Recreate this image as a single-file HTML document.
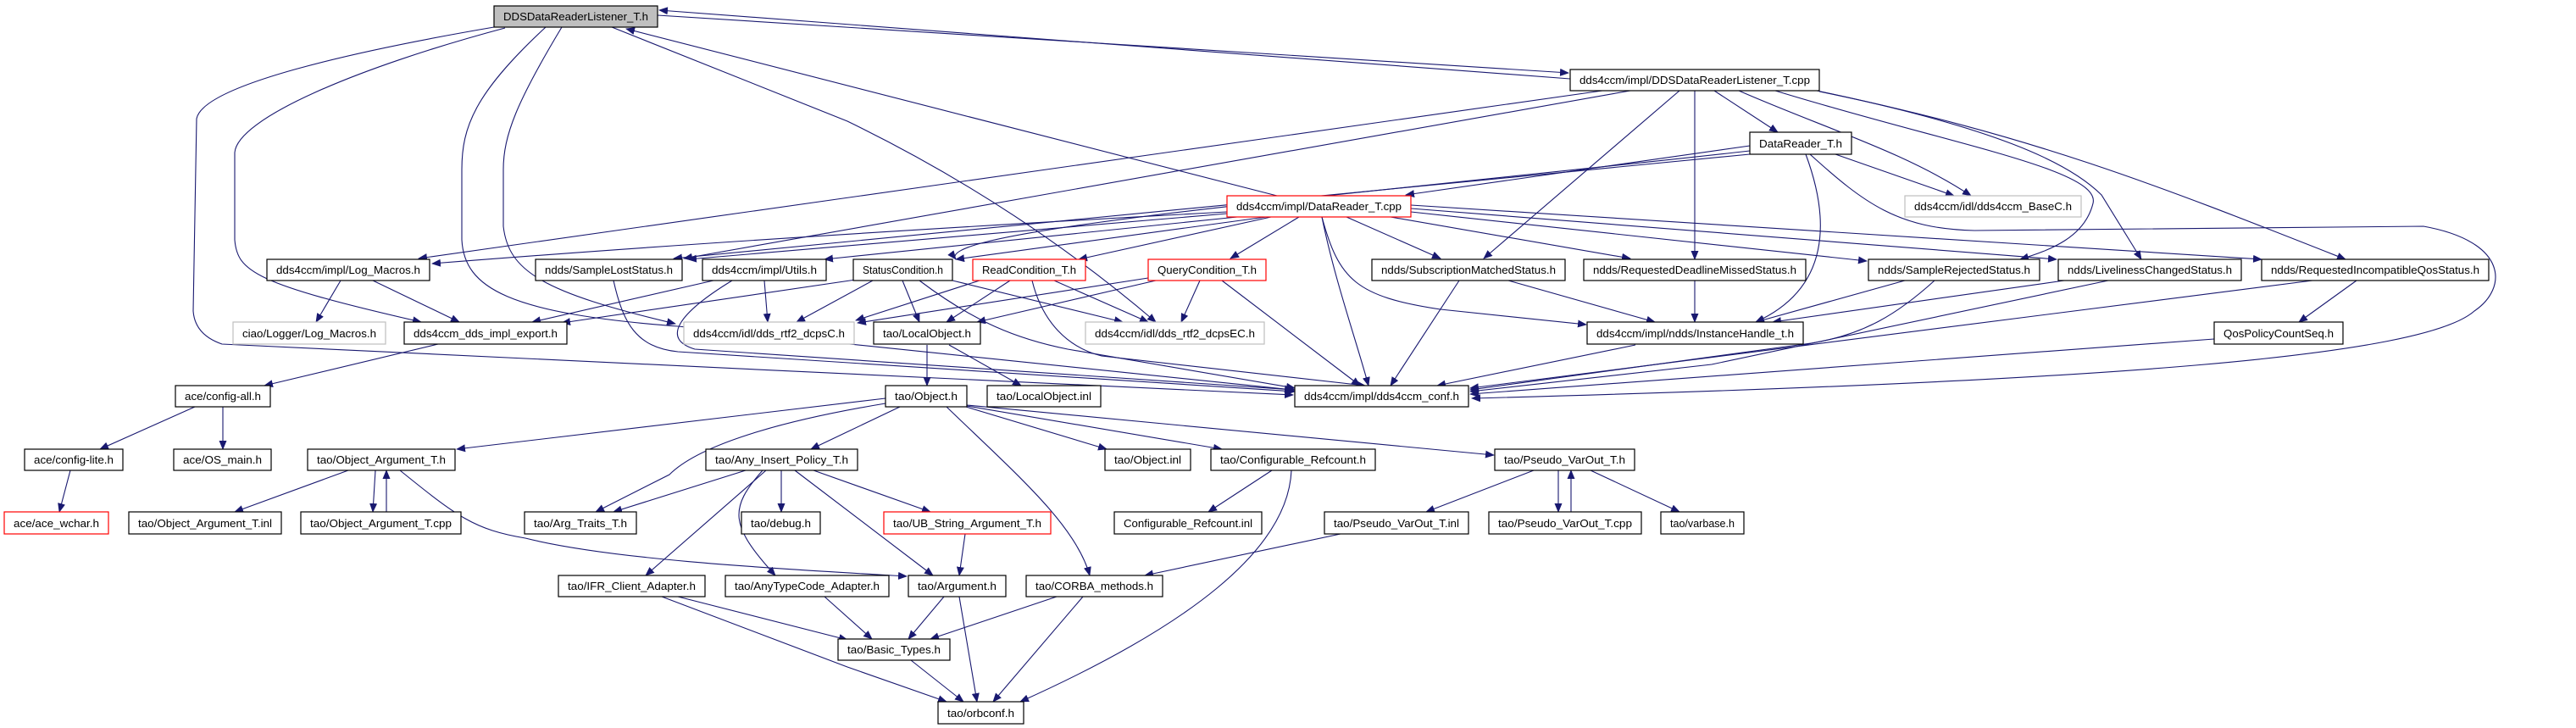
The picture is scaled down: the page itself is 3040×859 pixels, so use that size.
<!DOCTYPE html>
<html><head><meta charset="utf-8"><style>
html,body{margin:0;padding:0;background:#fff;}
svg{display:block;}
text{font-family:"Liberation Sans",sans-serif;font-size:12.5px;fill:#000;}
.e{fill:none;stroke:#191970;stroke-width:1.1;marker-end:url(#a);}
rect{fill:#fff;stroke:#000;stroke-width:1.2;}
rect.g{stroke:#bfbfbf;}
rect.r{stroke:#ff0000;}
</style></head><body>
<svg width="3040" height="859" viewBox="0 0 3040 859" xmlns="http://www.w3.org/2000/svg">
<defs><marker id="a" markerWidth="11" markerHeight="9" refX="10" refY="4.5" orient="auto" markerUnits="userSpaceOnUse"><path d="M0,0 L11,4.5 L0,9z" fill="#191970"/></marker></defs>
<g>
<!-- A edges -->
<path class="e" d="M776,18 L1851,86"/>
<path class="e" d="M1853,93 L778,12"/>
<path class="e" d="M583,32 C420,60 240,100 232,140 L228,367 Q230,395 262,406 L1526,466"/>
<path class="e" d="M596,33 C420,80 280,140 277,180 L277,283 C280,320 300,335 497,380"/>
<path class="e" d="M663,32 C610,120 594,160 594,200 L594,267 C600,320 640,345 797,382"/>
<path class="e" d="M644,32 C560,110 545,150 545,200 L545,283 C548,340 600,370 800,385 L1526,460"/>
<path class="e" d="M722,32 L1000,143 Q1200,240 1364,380"/>
<path class="e" d="M1507,231 L739,34"/>
<!-- B edges -->
<path class="e" d="M2023,107 L2098,156"/>
<path class="e" d="M2052,107 C2150,150 2250,180 2326,231"/>
<path class="e" d="M2095,107 C2300,170 2480,200 2470,240 C2460,280 2420,295 2384,306"/>
<path class="e" d="M2144,107 C2350,150 2440,190 2480,230 L2527,306"/>
<path class="e" d="M2147,108 C2400,160 2550,220 2768,306"/>
<path class="e" d="M2000,107 L2000,306"/>
<path class="e" d="M1982,107 L1751,305"/>
<path class="e" d="M1891,107 L494,305"/>
<path class="e" d="M1924,107 L807,305"/>
<!-- C edges -->
<path class="e" d="M2065,172 L1659,230"/>
<path class="e" d="M2065,178 C1600,230 1100,270 1128,306"/>
<path class="e" d="M2065,182 L795,305"/>
<path class="e" d="M2166,182 L2306,231"/>
<path class="e" d="M2131,182 C2160,260 2160,340 2072,380"/>
<path class="e" d="M2136,182 C2200,240 2240,270 2330,272 L2860,267 C2960,285 2960,340 2920,367 C2860,420 2500,450 1737,470"/>
<!-- D edges -->
<path class="e" d="M1448,250 Q900,280 510,311"/>
<path class="e" d="M1448,252 L812,306"/>
<path class="e" d="M1460,256 L973,306"/>
<path class="e" d="M1494,256 L1128,306"/>
<path class="e" d="M1500,256 L1273,306"/>
<path class="e" d="M1533,256 L1452,305"/>
<path class="e" d="M1589,256 L1700,305"/>
<path class="e" d="M1641,256 L1924,305"/>
<path class="e" d="M1665,250 L2203,308"/>
<path class="e" d="M1665,246 L2427,306"/>
<path class="e" d="M1665,242 L2669,306"/>
<path class="e" d="M1560,256 C1575,330 1600,400 1615,455"/>
<path class="e" d="M1560,256 C1580,330 1600,350 1700,365 L1872,383"/>
<!-- middle row -->
<path class="e" d="M402,331 L373,380"/>
<path class="e" d="M440,331 L542,380"/>
<path class="e" d="M724,331 C735,380 750,410 800,415 L1528,462"/>
<path class="e" d="M842,331 L628,380"/>
<path class="e" d="M902,331 L906,380"/>
<path class="e" d="M864,331 C800,370 780,400 820,412 L1528,460"/>
<path class="e" d="M1010,330 L663,381"/>
<path class="e" d="M1030,331 L940,380"/>
<path class="e" d="M1065,331 L1085,380"/>
<path class="e" d="M1124,331 L1325,380"/>
<path class="e" d="M1085,331 C1150,380 1200,400 1260,412 L1528,458"/>
<path class="e" d="M1156,331 L1010,378"/>
<path class="e" d="M1355,328 L1012,381"/>
<path class="e" d="M1192,331 L1117,380"/>
<path class="e" d="M1244,331 L1355,380"/>
<path class="e" d="M1218,331 C1230,380 1260,410 1300,420 L1611,455"/>
<path class="e" d="M1364,331 L1153,380"/>
<path class="e" d="M1416,331 L1394,380"/>
<path class="e" d="M1442,331 L1605,455"/>
<path class="e" d="M1722,331 L1641,455"/>
<path class="e" d="M1780,331 L1953,380"/>
<path class="e" d="M2000,331 L2000,380"/>
<path class="e" d="M2248,331 L2072,380"/>
<path class="e" d="M2283,331 C2240,370 2200,395 2137,405 L1735,460"/>
<path class="e" d="M2436,331 L2092,380"/>
<path class="e" d="M2488,331 L2020,430 L1735,462"/>
<path class="e" d="M2781,331 L2713,380"/>
<path class="e" d="M2729,331 L1735,458"/>
<path class="e" d="M2613,400 L1735,465"/>
<path class="e" d="M1930,407 L1696,455"/>
<!-- lower -->
<path class="e" d="M517,406 L312,455"/>
<path class="e" d="M1094,407 L1094,455"/>
<path class="e" d="M1120,407 L1205,455"/>
<path class="e" d="M230,480 L118,530"/>
<path class="e" d="M263,480 L263,530"/>
<path class="e" d="M83,555 L70,604"/>
<path class="e" d="M1045,470 L539,530"/>
<path class="e" d="M1045,476 C900,500 820,530 790,560 L703,604"/>
<path class="e" d="M1062,480 L957,530"/>
<path class="e" d="M1140,480 L1306,530"/>
<path class="e" d="M1141,479 L1442,530"/>
<path class="e" d="M1141,478 L1763,537"/>
<path class="e" d="M1117,480 C1200,560 1270,620 1286,679"/>
<path class="e" d="M411,555 L277,604"/>
<path class="e" d="M443,555 L440,604"/>
<path class="e" d="M456,604 L456,555"/>
<path class="e" d="M472,555 C540,610 560,625 620,635 C720,660 900,670 1070,680"/>
<path class="e" d="M880,555 L724,604"/>
<path class="e" d="M922,555 L922,604"/>
<path class="e" d="M960,555 L1098,604"/>
<path class="e" d="M938,555 L1101,679"/>
<path class="e" d="M904,555 L762,679"/>
<path class="e" d="M900,555 C860,600 861,620 915,679"/>
<path class="e" d="M1139,630 L1132,679"/>
<path class="e" d="M1501,555 L1426,604"/>
<path class="e" d="M1524,555 C1520,650 1400,740 1204,828"/>
<path class="e" d="M1810,555 L1683,604"/>
<path class="e" d="M1839,555 L1839,604"/>
<path class="e" d="M1854,604 L1854,555"/>
<path class="e" d="M1877,555 L1982,604"/>
<path class="e" d="M1582,630 L1351,679"/>
<path class="e" d="M800,704 L1000,755"/>
<path class="e" d="M781,704 L1000,787 L1117,828"/>
<path class="e" d="M973,704 L1029,754"/>
<path class="e" d="M1114,704 L1072,754"/>
<path class="e" d="M1132,704 L1153,828"/>
<path class="e" d="M1247,704 L1098,754"/>
<path class="e" d="M1278,704 L1172,828"/>
<path class="e" d="M1075,779 L1137,828"/>
</g>
<g>
<rect x="583" y="7" width="193" height="25" style="fill:#bfbfbf"/><text x="679.5" y="24" text-anchor="middle" textLength="171" lengthAdjust="spacingAndGlyphs">DDSDataReaderListener_T.h</text>
<rect x="1853" y="82" width="294" height="25"/><text x="2000" y="99" text-anchor="middle" textLength="272" lengthAdjust="spacingAndGlyphs">dds4ccm/impl/DDSDataReaderListener_T.cpp</text>
<rect x="2065" y="156" width="120" height="26"/><text x="2125" y="174" text-anchor="middle" textLength="98" lengthAdjust="spacingAndGlyphs">DataReader_T.h</text>
<rect class="r" x="1448" y="231" width="217" height="25"/><text x="1556.5" y="248" text-anchor="middle" textLength="195" lengthAdjust="spacingAndGlyphs">dds4ccm/impl/DataReader_T.cpp</text>
<rect class="g" x="2248" y="231" width="208" height="25"/><text x="2352" y="248" text-anchor="middle" textLength="186" lengthAdjust="spacingAndGlyphs">dds4ccm/idl/dds4ccm_BaseC.h</text>

<rect x="315" y="306" width="192" height="25"/><text x="411" y="323" text-anchor="middle" textLength="170" lengthAdjust="spacingAndGlyphs">dds4ccm/impl/Log_Macros.h</text>
<rect x="632" y="306" width="173" height="25"/><text x="718.5" y="323" text-anchor="middle" textLength="151" lengthAdjust="spacingAndGlyphs">ndds/SampleLostStatus.h</text>
<rect x="829" y="306" width="146" height="25"/><text x="902" y="323" text-anchor="middle" textLength="124" lengthAdjust="spacingAndGlyphs">dds4ccm/impl/Utils.h</text>
<rect x="1007" y="306" width="117" height="25"/><text x="1065.5" y="323" text-anchor="middle" textLength="95" lengthAdjust="spacingAndGlyphs">StatusCondition.h</text>
<rect class="r" x="1148" y="306" width="133" height="25"/><text x="1214.5" y="323" text-anchor="middle" textLength="111" lengthAdjust="spacingAndGlyphs">ReadCondition_T.h</text>
<rect class="r" x="1355" y="306" width="139" height="25"/><text x="1424.5" y="323" text-anchor="middle" textLength="117" lengthAdjust="spacingAndGlyphs">QueryCondition_T.h</text>
<rect x="1619" y="306" width="228" height="25"/><text x="1733" y="323" text-anchor="middle" textLength="206" lengthAdjust="spacingAndGlyphs">ndds/SubscriptionMatchedStatus.h</text>
<rect x="1869" y="306" width="262" height="25"/><text x="2000" y="323" text-anchor="middle" textLength="240" lengthAdjust="spacingAndGlyphs">ndds/RequestedDeadlineMissedStatus.h</text>
<rect x="2205" y="306" width="202" height="25"/><text x="2306" y="323" text-anchor="middle" textLength="180" lengthAdjust="spacingAndGlyphs">ndds/SampleRejectedStatus.h</text>
<rect x="2429" y="306" width="216" height="25"/><text x="2537" y="323" text-anchor="middle" textLength="194" lengthAdjust="spacingAndGlyphs">ndds/LivelinessChangedStatus.h</text>
<rect x="2669" y="306" width="268" height="25"/><text x="2803" y="323" text-anchor="middle" textLength="246" lengthAdjust="spacingAndGlyphs">ndds/RequestedIncompatibleQosStatus.h</text>

<rect class="g" x="275" y="380" width="180" height="26"/><text x="365" y="398" text-anchor="middle" textLength="158" lengthAdjust="spacingAndGlyphs">ciao/Logger/Log_Macros.h</text>
<rect x="477" y="380" width="192" height="26"/><text x="573" y="398" text-anchor="middle" textLength="170" lengthAdjust="spacingAndGlyphs">dds4ccm_dds_impl_export.h</text>
<rect class="g" x="807" y="380" width="201" height="26"/><text x="907.5" y="398" text-anchor="middle" textLength="179" lengthAdjust="spacingAndGlyphs">dds4ccm/idl/dds_rtf2_dcpsC.h</text>
<rect x="1031" y="380" width="126" height="26"/><text x="1094" y="398" text-anchor="middle" textLength="104" lengthAdjust="spacingAndGlyphs">tao/LocalObject.h</text>
<rect class="g" x="1281" y="380" width="211" height="26"/><text x="1386.5" y="398" text-anchor="middle" textLength="189" lengthAdjust="spacingAndGlyphs">dds4ccm/idl/dds_rtf2_dcpsEC.h</text>
<rect x="1873" y="380" width="255" height="26"/><text x="2000.5" y="398" text-anchor="middle" textLength="233" lengthAdjust="spacingAndGlyphs">dds4ccm/impl/ndds/InstanceHandle_t.h</text>
<rect x="2613" y="380" width="152" height="26"/><text x="2689" y="398" text-anchor="middle" textLength="130" lengthAdjust="spacingAndGlyphs">QosPolicyCountSeq.h</text>

<rect x="207" y="455" width="112" height="25"/><text x="263" y="472" text-anchor="middle" textLength="90" lengthAdjust="spacingAndGlyphs">ace/config-all.h</text>
<rect x="1045" y="455" width="96" height="25"/><text x="1093" y="472" text-anchor="middle" textLength="74" lengthAdjust="spacingAndGlyphs">tao/Object.h</text>
<rect x="1165" y="455" width="134" height="25"/><text x="1232" y="472" text-anchor="middle" textLength="112" lengthAdjust="spacingAndGlyphs">tao/LocalObject.inl</text>
<rect x="1528" y="455" width="205" height="25"/><text x="1630.5" y="472" text-anchor="middle" textLength="183" lengthAdjust="spacingAndGlyphs">dds4ccm/impl/dds4ccm_conf.h</text>

<rect x="29" y="530" width="116" height="25"/><text x="87" y="547" text-anchor="middle" textLength="94" lengthAdjust="spacingAndGlyphs">ace/config-lite.h</text>
<rect x="205" y="530" width="115" height="25"/><text x="262.5" y="547" text-anchor="middle" textLength="93" lengthAdjust="spacingAndGlyphs">ace/OS_main.h</text>
<rect x="363" y="530" width="174" height="25"/><text x="450" y="547" text-anchor="middle" textLength="152" lengthAdjust="spacingAndGlyphs">tao/Object_Argument_T.h</text>
<rect x="833" y="530" width="179" height="25"/><text x="922.5" y="547" text-anchor="middle" textLength="157" lengthAdjust="spacingAndGlyphs">tao/Any_Insert_Policy_T.h</text>
<rect x="1304" y="530" width="101" height="25"/><text x="1354.5" y="547" text-anchor="middle" textLength="79" lengthAdjust="spacingAndGlyphs">tao/Object.inl</text>
<rect x="1429" y="530" width="194" height="25"/><text x="1526" y="547" text-anchor="middle" textLength="172" lengthAdjust="spacingAndGlyphs">tao/Configurable_Refcount.h</text>
<rect x="1764" y="530" width="165" height="25"/><text x="1846.5" y="547" text-anchor="middle" textLength="143" lengthAdjust="spacingAndGlyphs">tao/Pseudo_VarOut_T.h</text>

<rect class="r" x="5" y="604" width="123" height="26"/><text x="66.5" y="622" text-anchor="middle" textLength="101" lengthAdjust="spacingAndGlyphs">ace/ace_wchar.h</text>
<rect x="152" y="604" width="180" height="26"/><text x="242" y="622" text-anchor="middle" textLength="158" lengthAdjust="spacingAndGlyphs">tao/Object_Argument_T.inl</text>
<rect x="355" y="604" width="189" height="26"/><text x="449.5" y="622" text-anchor="middle" textLength="167" lengthAdjust="spacingAndGlyphs">tao/Object_Argument_T.cpp</text>
<rect x="619" y="604" width="132" height="26"/><text x="685" y="622" text-anchor="middle" textLength="110" lengthAdjust="spacingAndGlyphs">tao/Arg_Traits_T.h</text>
<rect x="875" y="604" width="93" height="26"/><text x="921.5" y="622" text-anchor="middle" textLength="71" lengthAdjust="spacingAndGlyphs">tao/debug.h</text>
<rect class="r" x="1043" y="604" width="197" height="26"/><text x="1141.5" y="622" text-anchor="middle" textLength="175" lengthAdjust="spacingAndGlyphs">tao/UB_String_Argument_T.h</text>
<rect x="1315" y="604" width="174" height="26"/><text x="1402" y="622" text-anchor="middle" textLength="152" lengthAdjust="spacingAndGlyphs">Configurable_Refcount.inl</text>
<rect x="1563" y="604" width="170" height="26"/><text x="1648" y="622" text-anchor="middle" textLength="148" lengthAdjust="spacingAndGlyphs">tao/Pseudo_VarOut_T.inl</text>
<rect x="1757" y="604" width="180" height="26"/><text x="1847" y="622" text-anchor="middle" textLength="158" lengthAdjust="spacingAndGlyphs">tao/Pseudo_VarOut_T.cpp</text>
<rect x="1960" y="604" width="98" height="26"/><text x="2009" y="622" text-anchor="middle" textLength="76" lengthAdjust="spacingAndGlyphs">tao/varbase.h</text>

<rect x="659" y="679" width="173" height="25"/><text x="745.5" y="696" text-anchor="middle" textLength="151" lengthAdjust="spacingAndGlyphs">tao/IFR_Client_Adapter.h</text>
<rect x="856" y="679" width="193" height="25"/><text x="952.5" y="696" text-anchor="middle" textLength="171" lengthAdjust="spacingAndGlyphs">tao/AnyTypeCode_Adapter.h</text>
<rect x="1072" y="679" width="115" height="25"/><text x="1129.5" y="696" text-anchor="middle" textLength="93" lengthAdjust="spacingAndGlyphs">tao/Argument.h</text>
<rect x="1211" y="679" width="161" height="25"/><text x="1291.5" y="696" text-anchor="middle" textLength="139" lengthAdjust="spacingAndGlyphs">tao/CORBA_methods.h</text>

<rect x="989" y="754" width="132" height="25"/><text x="1055" y="771" text-anchor="middle" textLength="110" lengthAdjust="spacingAndGlyphs">tao/Basic_Types.h</text>
<rect x="1107" y="828" width="101" height="26"/><text x="1157.5" y="846" text-anchor="middle" textLength="79" lengthAdjust="spacingAndGlyphs">tao/orbconf.h</text>
</g>
</svg>
</body></html>
